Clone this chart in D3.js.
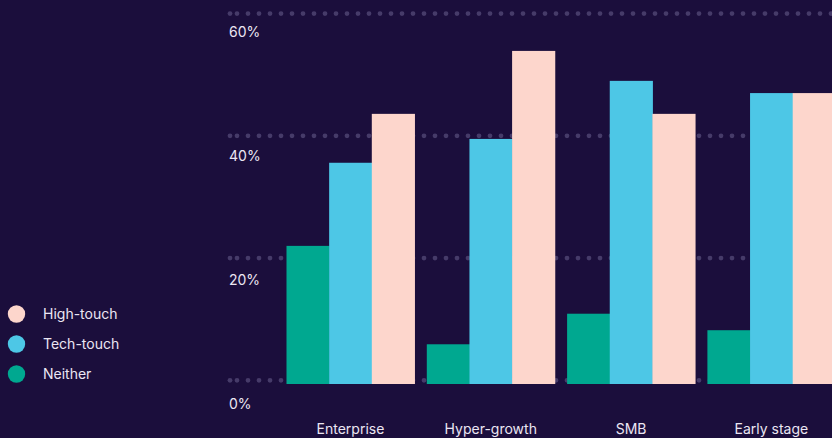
<!DOCTYPE html>
<html>
<head>
<meta charset="utf-8">
<script src="https://cdn.jsdelivr.net/npm/d3@7"></script>
<style>
  html, body { margin: 0; padding: 0; background: #1b0e3c; overflow: hidden; }
  svg { display: block; }
  text { font-family: Inter, "Noto Sans", sans-serif; fill: #ebe6f3; }
</style>
</head>
<body>
<svg id="chart" width="832" height="438"></svg>
<script>
// Share of companies by segment using each engagement model (%)
const categories = ["Enterprise", "Hyper-growth", "SMB", "Early stage"];
const seriesNames = ["Neither", "Tech-touch", "High-touch"];
const neither   = [22.6, 6.5, 11.5, 8.8];
const techTouch = [36.2, 40.1, 49.6, 47.6];
const highTouch = [44.2, 54.5, 44.2, 47.6];
const yTicks = [0, 20, 40, 60];
const legendOrder = ["High-touch", "Tech-touch", "Neither"];

const colors = { "Neither": "#00a890", "Tech-touch": "#4dc7e6", "High-touch": "#fdd6cc" };
const values = { "Neither": neither, "Tech-touch": techTouch, "High-touch": highTouch };

const W = 832, H = 438;
const svg = d3.select("#chart");

const y = d3.scaleLinear().domain([0, 60]).range([384, 17.3]);
// tick labels sit below their gridline, spaced slightly wider than the grid
const yLabel = d3.scaleLinear().domain([0, 60]).range([409, 37.3]);

// group step 140.3, group width 128
const pad = 0.088, step = 140.3, x0Start = 286.5;
const x0 = d3.scaleBand().domain(categories)
  .range([x0Start, x0Start + step * (categories.length - pad)])
  .paddingInner(pad).paddingOuter(0);
const x1 = d3.scaleBand().domain(seriesNames).range([0, x0.bandwidth()]);

// dotted gridlines
const grid = svg.append("g");
yTicks.forEach(t => {
  const gy = y(t) - 3.7;
  grid.append("circle").attr("cx", 230).attr("cy", gy).attr("r", 2.4).attr("fill", "#463b69");
  grid.append("line")
    .attr("x1", 237).attr("x2", W + 10)
    .attr("y1", gy).attr("y2", gy)
    .attr("stroke", "#463b69").attr("stroke-width", 4.8)
    .attr("stroke-linecap", "round").attr("stroke-dasharray", "0 11");
});

// y tick labels
svg.append("g").selectAll("text").data(yTicks).join("text")
  .attr("x", 229).attr("y", d => yLabel(d))
  .attr("font-size", 14)
  .text(d => d + "%");

// bars
const groups = svg.append("g").selectAll("g").data(categories).join("g")
  .attr("transform", d => `translate(${x0(d)},0)`);
groups.selectAll("rect").data((c, i) => seriesNames.map(s => ({ s, v: values[s][i] }))).join("rect")
  .attr("x", d => x1(d.s))
  .attr("width", x1.bandwidth() + 0.5)
  .attr("y", d => y(d.v))
  .attr("height", d => y(0) - y(d.v))
  .attr("fill", d => colors[d.s]);

// category labels
svg.append("g").selectAll("text").data(categories).join("text")
  .attr("x", d => x0(d) + x0.bandwidth() / 2)
  .attr("y", 434)
  .attr("text-anchor", "middle")
  .attr("font-size", 14)
  .text(d => d);

// legend
const legend = svg.append("g").selectAll("g").data(legendOrder).join("g")
  .attr("transform", (d, i) => `translate(0,${314 + i * 30})`);
legend.append("circle").attr("cx", 16.5).attr("cy", 0).attr("r", 8.7).attr("fill", d => colors[d]);
legend.append("text").attr("x", 43).attr("y", 5).attr("font-size", 14).text(d => d);
</script>
</body>
</html>
